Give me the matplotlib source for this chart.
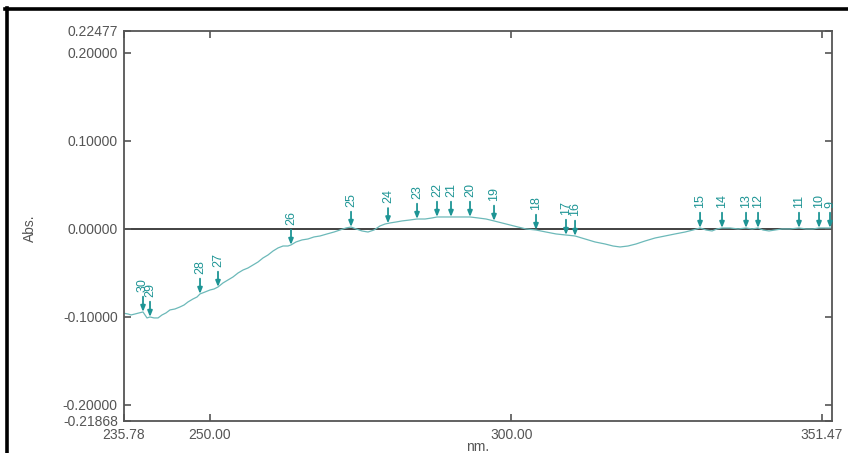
import numpy as np
import matplotlib
matplotlib.use("Agg")
import matplotlib.pyplot as plt
from matplotlib.lines import Line2D

# ---- data ----
wavelength = [235.78, 236.44, 236.94, 237.60, 238.27, 238.93, 239.59, 240.09, 240.76, 241.42,
              242.08, 242.74, 243.40, 244.23, 245.06, 245.73, 246.39, 247.22, 247.88, 248.38,
              249.21, 250.04, 250.70, 251.36, 252.19, 253.02, 253.85, 254.68, 255.51, 256.33,
              257.16, 257.99, 258.82, 259.65, 260.48, 261.31, 262.14, 262.96, 263.46, 264.29,
              265.28, 266.28, 267.27, 268.27, 269.43, 270.59, 271.58, 272.58, 273.41, 274.24,
              275.23, 276.22, 277.22, 278.21, 279.04, 279.87, 280.87, 281.86, 283.19, 284.35,
              285.68, 286.84, 287.66, 288.82, 289.98, 291.47, 293.13, 294.46, 295.78, 297.11,
              298.43, 299.76, 301.09, 302.41, 304.07, 305.73, 307.39, 309.04, 310.54, 312.19,
              313.85, 315.51, 316.84, 318.00, 319.32, 320.65, 322.14, 323.80, 325.46, 327.11,
              328.77, 330.10, 331.26, 332.26, 333.25, 334.08, 334.90, 336.23, 337.56, 338.88,
              339.88, 340.87, 341.70, 342.69, 343.69, 344.85, 346.17, 347.66, 348.82, 349.98,
              350.98, 352.14, 353.13]
absorbance = [-0.0962, -0.0970, -0.0981, -0.0970, -0.0958, -0.0947, -0.1015, -0.1004, -0.1015, -0.1015,
              -0.0981, -0.0958, -0.0924, -0.0913, -0.0890, -0.0868, -0.0833, -0.0799, -0.0777, -0.0742,
              -0.0720, -0.0697, -0.0686, -0.0663, -0.0617, -0.0583, -0.0549, -0.0504, -0.0470, -0.0447,
              -0.0413, -0.0379, -0.0333, -0.0299, -0.0254, -0.0219, -0.0197, -0.0197, -0.0185, -0.0151,
              -0.0128, -0.0117, -0.0094, -0.0083, -0.0060, -0.0038, -0.0015, 0.0008, 0.0019, -0.0003,
              -0.0026, -0.0038, -0.0015, 0.0031, 0.0053, 0.0065, 0.0076, 0.0088, 0.0099, 0.0110,
              0.0110, 0.0122, 0.0133, 0.0133, 0.0133, 0.0133, 0.0133, 0.0122, 0.0110, 0.0088,
              0.0065, 0.0042, 0.0019, -0.0003, -0.0015, -0.0038, -0.0060, -0.0072, -0.0083, -0.0117,
              -0.0151, -0.0174, -0.0197, -0.0208, -0.0197, -0.0174, -0.0140, -0.0106, -0.0083, -0.0060,
              -0.0038, -0.0015, 0.0008, -0.0015, -0.0026, -0.0003, 0.0008, 0.0008, -0.0003, 0.0008,
              -0.0003, 0.0008, -0.0015, -0.0026, -0.0015, -0.0003, -0.0003, 0.0008, -0.0003, -0.0003,
              0.0008, 0.0008, 0.0008]

peak_labels = ["30", "29", "28", "27", "26", "25", "24", "23", "22", "21", "20", "19",
               "18", "17", "16", "15", "14", "13", "12", "11", "10", "9"]
peak_nm = [238.93, 240.09, 248.38, 251.36, 263.46, 273.41, 279.54, 284.35, 287.66, 289.98,
           293.13, 297.11, 304.07, 309.04, 310.54, 331.26, 334.90, 338.88, 340.87, 347.66,
           350.98, 352.80]

x_ticks = [235.78, 250.00, 300.00, 351.47]
x_tick_labels = ["235.78", "250.00", "300.00", "351.47"]
y_ticks = [0.22477, 0.20000, 0.10000, 0.00000, -0.10000, -0.20000, -0.21868]
y_tick_labels = ["0.22477", "0.20000", "0.10000", "0.00000", "-0.10000", "-0.20000", "-0.21868"]

# ---- figure ----
plt.rcParams['font.family'] = ['Liberation Sans', 'DejaVu Sans']
W, H = 848, 453
fig = plt.figure(figsize=(W / 100, H / 100), dpi=100)
fig.patch.set_facecolor('white')
ax = fig.add_axes([124 / W, 1 - 421 / H, (832 - 124) / W, (421 - 31) / H])

line_col = '#6cb9b9'
mark_col = '#1e9595'
text_col = '#555555'

ax.axhline(0, color='#333333', lw=1.3, zorder=1)
ax.plot(wavelength, absorbance, color=line_col, lw=0.9, zorder=2)

ax.set_xlim(235.78, 353.13)
ax.set_ylim(-0.21868, 0.22477)
ax.set_xticks(x_ticks)
ax.set_xticklabels(x_tick_labels)
ax.set_yticks(y_ticks)
ax.set_yticklabels(y_tick_labels)
ax.tick_params(direction='in', length=5, width=1.2, color=text_col, labelcolor=text_col,
               labelsize=10, top=True, right=True)
ax.tick_params(axis='y', pad=4.5)
ax.tick_params(axis='x', pad=5)
for s in ax.spines.values():
    s.set_color(text_col)
    s.set_linewidth(1.3)

ax.set_xlabel('nm.', fontsize=10, color=text_col)
ax.set_ylabel('Abs.', fontsize=10, color=text_col)
ax.xaxis.set_label_coords(0.5, (421 - 440) / 390)
ax.yaxis.set_label_coords((37 - 124) / 708, 0.495)

peak_abs = np.interp(peak_nm, wavelength, absorbance)
for lab, px, py in zip(peak_labels, peak_nm, peak_abs):
    ax.annotate('', xy=(px, py), xytext=(0, 11), textcoords='offset points',
                arrowprops=dict(arrowstyle='-|>,head_length=0.35,head_width=0.14',
                                color=mark_col, lw=1.3, shrinkA=0, shrinkB=0),
                annotation_clip=False, zorder=3)
    ax.annotate(lab, xy=(px, py), xytext=(0, 14.5), textcoords='offset points',
                rotation=90, ha='center', va='bottom', color=mark_col, fontsize=9,
                annotation_clip=False, zorder=3)

# black frame lines on top and left of the image
fig.add_artist(Line2D([5 / W, 1], [1 - 8.5 / H] * 2, transform=fig.transFigure,
                      color='black', lw=2.6))
fig.add_artist(Line2D([6.5 / W] * 2, [0, 1 - 7.5 / H], transform=fig.transFigure,
                      color='black', lw=2.6))

fig.savefig('out.png', dpi=100)
